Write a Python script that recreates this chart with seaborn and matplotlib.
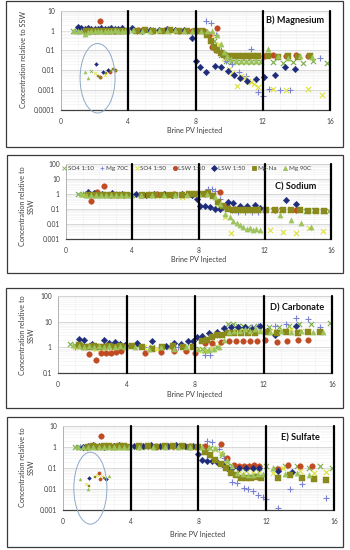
import matplotlib
matplotlib.use("Agg")
import matplotlib.pyplot as plt
from matplotlib.patches import Ellipse, Rectangle
from matplotlib.lines import Line2D
from matplotlib.ticker import LogLocator, MultipleLocator, NullFormatter
import pandas as pd
import seaborn as sns

# ---- series styling (legend order) ----
SERIES = ["SO4 1:10", "Mg 70C", "SO4 1:50", "LSW 1:10", "LSW 1:50", "Mg-Na", "Mg 90C"]
MARKERS = {"SO4 1:10": "x", "Mg 70C": "+", "SO4 1:50": "x", "LSW 1:10": "o",
           "LSW 1:50": "D", "Mg-Na": "s", "Mg 90C": "^"}
COLORS = {"SO4 1:10": "#78AD45", "Mg 70C": "#7A82D4", "SO4 1:50": "#E0E03A",
          "LSW 1:10": "#C04A22", "LSW 1:50": "#1F2C7A", "Mg-Na": "#8A8A1C",
          "Mg 90C": "#9CC35C"}
SIZES = {"SO4 1:10": 14, "Mg 70C": 16, "SO4 1:50": 14, "LSW 1:10": 16,
         "LSW 1:50": 11, "Mg-Na": 13, "Mg 90C": 14}

# ---- B) Magnesium ----
b_so4_10_x = [0.7, 0.9, 1.1, 1.3, 1.5, 1.7, 1.9, 2.1, 2.3, 2.5, 2.7, 2.9, 3.1, 3.3, 3.5, 3.7, 3.9, 4.4, 4.9, 5.4, 5.9, 6.4, 6.9, 7.4, 7.9, 8.3, 8.7, 9.1, 9.5, 9.8, 10.1, 10.4, 10.7, 11.0, 11.3, 11.6, 11.9, 12.6, 13.2, 13.8, 14.4, 15.0, 15.8]
b_so4_10_y = [1.0, 1.0, 0.95, 0.9, 0.9, 0.95, 0.9, 0.95, 1.0, 0.95, 1.0, 1.0, 0.95, 1.0, 1.0, 1.05, 1.0, 1.0, 1.05, 1.0, 1.0, 1.05, 1.0, 1.0, 0.95, 0.9, 0.7, 0.3, 0.06, 0.03, 0.025, 0.025, 0.025, 0.025, 0.025, 0.025, 0.025, 0.025, 0.022, 0.025, 0.022, 0.03, 0.024]
b_mg70_x = [1.0, 1.6, 2.2, 2.8, 3.4, 4.5, 5.5, 6.5, 7.5, 8.1, 8.6, 8.9, 9.2, 9.5, 9.8, 10.2, 10.6, 11.0, 11.3, 11.7, 12.0, 12.4, 13.0, 13.6, 15.4]
b_mg70_y = [1.0, 1.05, 1.0, 1.0, 1.05, 1.0, 1.05, 1.0, 1.0, 1.0, 3.0, 2.5, 0.6, 0.1, 0.03, 0.02, 0.008, 0.005, 0.12, 0.0008, 0.0005, 0.0011, 0.001, 0.001, 0.04]
b_so4_50_x = [1.2, 1.8, 2.4, 3.0, 3.6, 4.6, 5.6, 6.6, 7.6, 8.4, 9.0, 9.4, 9.7, 10.0, 10.2, 10.45, 10.7, 10.9, 11.1, 11.3, 11.5, 11.7, 12.6, 13.4, 14.7, 15.5]
b_so4_50_y = [1.0, 0.95, 1.0, 1.0, 0.95, 1.0, 1.0, 0.95, 1.0, 0.9, 0.6, 0.2, 0.04, 0.012, 0.007, 0.0017, 0.005, 0.004, 0.003, 0.0025, 0.002, 0.0015, 0.0012, 0.001, 0.0012, 0.0006]
b_lsw10_x = [1.4, 1.7, 2.0, 2.3, 2.6, 2.9, 3.2, 3.5, 4.6, 5.4, 6.2, 7.0, 7.8, 8.5, 8.8, 9.0, 9.2, 9.3, 9.6, 10.0, 10.4, 10.8, 11.2, 11.6, 12.1, 12.6, 13.4, 14.0, 14.7]
b_lsw10_y = [1.0, 0.9, 1.0, 3.2, 1.0, 1.0, 0.95, 1.0, 1.1, 1.0, 1.05, 1.0, 1.0, 1.0, 0.6, 0.15, 0.1, 1.4, 0.07, 0.05, 0.05, 0.05, 0.05, 0.05, 0.05, 0.06, 0.055, 0.06, 0.055]
b_lsw50_x = [1.0, 1.2, 1.4, 1.6, 1.8, 2.0, 2.2, 2.4, 2.6, 2.8, 3.0, 3.2, 3.4, 3.6, 4.2, 4.8, 5.3, 5.8, 6.3, 6.8, 7.3, 7.8, 8.0, 8.25, 8.65, 9.15, 9.5, 9.95, 10.3, 10.65, 11.05, 11.6, 12.1, 12.7, 13.35, 13.9]
b_lsw50_y = [1.6, 1.4, 1.2, 1.3, 1.2, 1.25, 1.2, 1.3, 1.25, 1.2, 1.3, 1.25, 1.2, 1.3, 1.4, 1.0, 1.1, 1.1, 1.2, 1.1, 1.1, 0.42, 0.03, 0.015, 0.0085, 0.016, 0.015, 0.009, 0.006, 0.004, 0.003, 0.0035, 0.0045, 0.006, 0.015, 0.012]
b_mgna_x = [1.5, 1.8, 2.1, 2.4, 2.7, 3.0, 3.3, 3.6, 3.9, 4.5, 5.0, 5.5, 6.0, 6.5, 7.0, 7.5, 8.0, 8.4, 8.7, 8.9, 9.1, 9.3, 9.5, 9.7, 9.9, 10.2, 10.5, 10.8, 11.1, 11.4, 11.7, 12.3, 12.9, 13.5, 14.1, 14.8]
b_mgna_y = [0.9, 1.0, 0.9, 1.0, 1.0, 0.95, 1.0, 1.0, 1.0, 1.0, 1.05, 1.0, 1.0, 1.05, 1.0, 1.0, 1.0, 0.9, 0.6, 0.3, 0.15, 0.1, 0.07, 0.06, 0.055, 0.05, 0.05, 0.05, 0.05, 0.05, 0.05, 0.05, 0.045, 0.05, 0.045, 0.05]
b_mg90_x = [0.8, 1.0, 1.2, 1.4, 1.6, 1.8, 2.0, 2.2, 2.4, 2.6, 2.8, 3.0, 3.2, 3.4, 3.6, 3.8, 4.3, 4.8, 5.3, 5.8, 6.3, 6.8, 7.3, 7.8, 8.3, 8.7, 9.0, 9.3, 9.5, 9.7, 9.9, 10.1, 10.4, 10.7, 11.0, 11.3, 11.6, 11.9, 12.3, 12.9, 13.5, 14.2, 14.9]
b_mg90_y = [1.0, 0.95, 0.9, 0.7, 0.8, 0.9, 0.95, 1.0, 1.0, 0.95, 1.0, 1.0, 1.05, 1.0, 1.0, 1.0, 1.05, 1.0, 1.0, 1.05, 1.0, 1.05, 1.0, 1.0, 1.0, 1.0, 0.9, 0.6, 0.2, 0.08, 0.05, 0.035, 0.03, 0.03, 0.03, 0.03, 0.03, 0.03, 0.12, 0.05, 0.04, 0.05, 0.045]
b_inset_x = [1.4, 1.6, 1.8, 2.0, 2.1, 2.2, 2.3, 2.4, 2.5, 2.6, 2.7, 2.8, 2.9, 3.0, 3.1, 3.2, 3.3]
b_inset_y = [0.008, 0.004, 0.009, 0.007, 0.021, 0.005, 0.0045, 0.004, 0.008, 0.006, 0.007, 0.01, 0.008, 0.009, 0.012, 0.01, 0.009]
b_inset_series = ["Mg 90C", "Mg 90C", "SO4 1:10", "SO4 1:50", "LSW 1:50", "Mg-Na", "LSW 1:10", "Mg-Na", "LSW 1:50",
                  "SO4 1:50", "Mg-Na", "LSW 1:50", "LSW 1:10", "Mg-Na", "Mg-Na", "LSW 1:10", "Mg-Na"]

# ---- C) Sodium ----
c_so4_10_x = [0.7, 1.0, 1.2, 1.4, 1.6, 1.8, 2.0, 2.2, 2.4, 2.6, 2.8, 3.0, 3.2, 3.4, 3.6, 3.8, 4.0, 4.5, 5.0, 5.5, 6.0, 6.5, 7.0, 7.5, 8.0, 8.4, 8.8, 9.2, 9.6, 10.0, 10.4, 10.8, 11.2, 11.6, 12.0, 12.5, 13.0, 13.5, 14.0, 14.5, 15.0, 15.5, 15.9]
c_so4_10_y = [1.0, 1.0, 0.9, 0.85, 0.8, 0.85, 0.8, 0.85, 0.8, 0.85, 0.8, 0.85, 0.8, 0.85, 0.8, 0.85, 0.9, 0.85, 0.9, 0.85, 0.9, 0.85, 0.9, 0.95, 1.0, 1.0, 0.8, 0.3, 0.12, 0.09, 0.08, 0.08, 0.08, 0.08, 0.08, 0.08, 0.085, 0.08, 0.08, 0.075, 0.08, 0.075, 0.075]
c_mg70_x = [1.0, 2.0, 3.0, 4.0, 5.0, 6.0, 7.0, 8.0, 8.6, 8.8, 9.0, 9.3, 9.6, 10.0, 10.4, 10.8, 11.2, 11.6, 12.0]
c_mg70_y = [1.0, 1.0, 1.0, 1.0, 1.0, 1.0, 1.0, 1.0, 2.0, 2.0, 1.5, 0.5, 0.15, 0.08, 0.06, 0.06, 0.06, 0.065, 0.07]
c_so4_50_x = [1.0, 1.5, 2.0, 2.5, 3.0, 3.5, 4.5, 5.5, 6.2, 7.0, 7.8, 8.3, 8.8, 9.2, 9.6, 9.95, 12.3, 13.1, 13.9, 14.7, 15.5]
c_so4_50_y = [0.9, 0.8, 0.9, 0.8, 0.85, 0.9, 0.7, 0.75, 0.7, 0.6, 0.9, 1.0, 0.7, 0.2, 0.03, 0.0026, 0.004, 0.003, 0.0025, 0.0056, 0.0036]
c_lsw10_x = [1.5, 1.9, 2.3, 2.7, 3.1, 3.5, 4.5, 5.5, 6.5, 7.5, 8.4, 9.3, 9.7, 10.2, 10.6, 11.0, 11.4, 12.6, 13.9]
c_lsw10_y = [0.33, 1.3, 3.3, 0.9, 0.9, 0.9, 0.9, 1.0, 1.0, 1.0, 1.0, 1.3, 0.15, 0.1, 0.1, 0.1, 0.1, 0.09, 0.09]
c_lsw50_x = [1.3, 1.7, 2.2, 2.8, 3.4, 4.2, 4.8, 5.3, 5.9, 6.4, 7.0, 7.6, 7.9, 8.1, 8.4, 8.7, 9.0, 9.3, 9.8, 10.1, 10.5, 10.9, 11.4, 11.7, 13.3, 13.9]
c_lsw50_y = [1.4, 1.1, 1.0, 1.1, 1.0, 1.0, 0.9, 1.0, 1.0, 0.9, 1.0, 0.9, 0.5, 0.15, 0.15, 0.14, 0.1, 0.1, 0.3, 0.25, 0.15, 0.15, 0.18, 0.12, 0.4, 0.22]
c_mgna_x = [1.3, 1.6, 1.9, 2.2, 2.5, 2.8, 3.1, 3.4, 3.7, 4.6, 5.0, 5.4, 5.8, 6.2, 6.6, 7.0, 7.4, 7.8, 8.2, 8.6, 8.9, 9.2, 9.5, 9.8, 10.1, 10.4, 10.7, 11.0, 11.3, 11.6, 12.1, 12.6, 13.1, 13.6, 14.1, 14.6, 15.1, 15.6]
c_mgna_y = [0.9, 0.8, 0.9, 0.85, 0.9, 0.85, 0.9, 0.85, 0.9, 0.85, 0.9, 0.9, 0.85, 0.9, 0.9, 0.9, 0.95, 1.0, 1.0, 1.1, 0.7, 0.3, 0.15, 0.1, 0.085, 0.08, 0.08, 0.08, 0.08, 0.08, 0.09, 0.08, 0.09, 0.08, 0.085, 0.07, 0.075, 0.075]
c_mg90_x = [0.9, 1.2, 1.5, 1.8, 2.1, 2.4, 2.7, 3.0, 3.3, 3.6, 3.9, 4.5, 5.2, 5.9, 6.6, 7.3, 8.0, 8.5, 9.0, 9.3, 9.6, 9.9, 10.1, 10.3, 10.5, 10.7, 10.9, 11.1, 11.3, 11.5, 11.7, 12.9, 13.6, 14.2, 14.8]
c_mg90_y = [1.0, 0.9, 0.85, 0.8, 0.85, 0.8, 0.85, 0.8, 0.85, 0.8, 0.85, 0.9, 0.85, 0.9, 0.85, 0.9, 0.95, 1.0, 0.6, 0.2, 0.05, 0.03, 0.015, 0.012, 0.008, 0.006, 0.005, 0.0055, 0.004, 0.005, 0.004, 0.04, 0.018, 0.012, 0.006]

# ---- D) Carbonate ----
d_so4_10_x = [0.7, 1.0, 1.3, 1.6, 1.9, 2.2, 2.5, 2.8, 3.1, 3.4, 3.7, 4.0, 4.6, 5.5, 6.5, 7.5, 8.4, 8.7, 9.0, 9.3, 9.6, 9.9, 10.2, 10.5, 10.8, 11.1, 11.4, 11.7, 12.3, 12.9, 13.5, 14.1, 14.8, 15.9]
d_so4_10_y = [1.3, 1.2, 1.2, 1.1, 1.2, 1.1, 1.1, 1.2, 1.1, 1.2, 1.1, 1.2, 1.2, 1.0, 1.0, 1.0, 0.9, 0.8, 0.9, 1.0, 3.0, 8.0, 8.0, 7.0, 7.0, 6.0, 6.0, 6.5, 6.0, 6.0, 7.0, 8.0, 8.0, 9.0]
d_mg70_x = [1.0, 2.0, 3.0, 4.0, 5.0, 6.0, 7.0, 8.0, 8.6, 8.9, 9.3, 9.7, 10.1, 10.5, 10.9, 11.3, 11.7, 12.7, 13.3, 13.9, 14.6, 15.3]
d_mg70_y = [1.0, 1.0, 1.0, 1.0, 1.0, 1.0, 1.0, 1.0, 0.5, 0.5, 3.0, 5.0, 6.0, 6.0, 6.0, 6.0, 7.0, 7.0, 8.0, 14.0, 13.0, 6.0]
d_so4_50_x = [1.0, 1.6, 2.2, 2.8, 3.4, 4.2, 5.0, 5.8, 6.6, 7.4, 8.2, 8.6, 9.0, 9.4, 9.8, 10.2, 10.6, 11.0, 11.4, 11.8, 12.4, 13.0, 13.6, 14.2]
d_so4_50_y = [1.0, 1.0, 0.9, 1.0, 1.0, 1.1, 1.0, 0.9, 1.0, 0.9, 0.8, 0.7, 0.9, 1.5, 3.5, 4.5, 4.5, 5.0, 5.0, 5.0, 4.5, 4.5, 5.0, 4.5]
d_lsw10_x = [1.8, 2.2, 2.5, 2.8, 3.1, 3.4, 3.7, 5.1, 6.0, 6.8, 7.5, 8.0, 8.6, 9.0, 9.5, 10.0, 10.4, 10.8, 11.2, 11.6, 12.1, 12.8, 13.4, 14.0, 14.6]
d_lsw10_y = [0.55, 0.33, 0.6, 0.6, 0.6, 0.65, 0.7, 0.6, 0.65, 0.7, 0.7, 0.6, 1.5, 1.5, 1.6, 1.7, 1.8, 1.8, 1.8, 1.8, 1.9, 1.6, 1.8, 2.0, 2.0]
d_lsw50_x = [1.2, 1.5, 2.0, 2.7, 3.0, 3.3, 3.6, 3.9, 4.6, 5.5, 6.3, 6.8, 7.2, 7.6, 7.9, 8.1, 8.4, 8.8, 9.3, 9.7, 10.1, 10.5, 10.9, 11.3, 11.8, 12.2, 12.7, 13.9]
d_lsw50_y = [2.2, 1.9, 1.3, 2.0, 1.5, 1.6, 1.4, 1.2, 1.5, 1.8, 1.1, 1.5, 1.4, 1.7, 1.7, 2.5, 2.8, 3.5, 4.0, 5.5, 6.0, 6.0, 6.0, 5.0, 7.0, 4.5, 3.0, 6.5]
d_mgna_x = [1.2, 1.5, 1.8, 2.1, 2.4, 2.7, 3.0, 3.3, 3.6, 3.9, 4.3, 4.9, 5.5, 6.1, 6.7, 7.3, 7.9, 8.4, 8.7, 9.0, 9.3, 9.6, 9.9, 10.3, 10.7, 11.1, 11.5, 12.2, 12.8, 13.3, 14.0, 14.6, 15.3]
d_mgna_y = [1.2, 1.0, 1.0, 1.1, 1.0, 1.0, 1.1, 1.0, 1.1, 1.0, 1.1, 1.0, 0.9, 1.0, 1.1, 1.0, 1.0, 1.7, 2.0, 2.5, 3.0, 3.0, 3.5, 3.5, 3.5, 3.5, 3.5, 4.0, 3.5, 4.0, 3.5, 4.0, 3.8]
d_mg90_x = [0.9, 1.2, 1.5, 1.8, 2.1, 2.4, 2.7, 3.0, 3.3, 3.6, 3.9, 4.5, 5.3, 6.0, 6.8, 7.5, 8.2, 8.5, 8.8, 9.1, 9.4, 9.7, 10.0, 10.3, 10.6, 10.9, 11.2, 11.5, 11.8, 12.4, 13.0, 13.6, 14.2, 14.9, 15.5]
d_mg90_y = [1.2, 1.1, 1.0, 1.1, 1.0, 1.1, 1.0, 1.1, 1.0, 1.1, 1.0, 1.0, 0.9, 1.0, 0.9, 1.0, 0.9, 0.8, 0.8, 0.9, 1.0, 2.0, 4.0, 4.5, 4.5, 5.0, 4.5, 5.0, 4.5, 4.0, 4.5, 4.0, 4.5, 4.0, 4.0]

# ---- E) Sulfate ----
e_so4_10_x = [0.7, 0.9, 1.1, 1.3, 1.5, 1.7, 1.9, 2.1, 2.3, 2.5, 2.7, 2.9, 3.1, 3.3, 3.5, 3.7, 3.9, 4.4, 4.9, 5.4, 5.9, 6.4, 6.9, 7.4, 7.9, 8.3, 8.7, 9.0, 9.4, 9.7, 10.0, 10.4, 10.8, 11.2, 11.6, 12.0, 12.5, 13.1, 13.8, 14.5, 15.2, 15.9]
e_so4_10_y = [1.0, 1.0, 0.95, 0.9, 0.95, 1.0, 1.0, 1.05, 1.0, 1.0, 1.05, 1.0, 1.0, 1.05, 1.0, 1.0, 1.05, 1.0, 1.05, 1.0, 1.0, 1.05, 1.0, 1.0, 1.0, 1.0, 0.9, 0.8, 0.4, 0.2, 0.12, 0.1, 0.1, 0.11, 0.1, 0.12, 0.1, 0.12, 0.13, 0.1, 0.13, 0.1]
e_mg70_x = [1.0, 2.0, 3.0, 4.5, 5.5, 6.5, 7.5, 8.2, 8.5, 8.8, 9.2, 9.5, 9.8, 10.0, 10.3, 10.7, 10.9, 11.2, 11.5, 11.8, 12.0, 12.7, 13.4, 14.1, 15.5]
e_mg70_y = [1.0, 1.0, 1.0, 1.0, 1.0, 1.0, 1.0, 1.0, 2.0, 1.7, 0.8, 0.3, 0.1, 0.022, 0.02, 0.011, 0.01, 0.008, 0.005, 0.004, 0.0032, 0.0012, 0.0097, 0.017, 0.0036]
e_so4_50_x = [1.2, 1.8, 2.4, 3.0, 3.6, 4.6, 5.6, 6.6, 7.6, 8.4, 9.0, 9.3, 9.6, 10.0, 10.4, 10.8, 11.2, 11.6, 12.4, 13.0, 14.0, 14.8, 15.5]
e_so4_50_y = [1.0, 1.0, 1.05, 1.0, 1.0, 1.0, 1.05, 1.0, 1.0, 1.0, 0.8, 0.5, 0.15, 0.08, 0.07, 0.07, 0.075, 0.07, 0.06, 0.1, 0.07, 0.06, 0.065]
e_lsw10_x = [1.4, 1.8, 2.25, 2.6, 3.0, 3.4, 4.5, 5.5, 6.5, 7.5, 8.4, 9.3, 9.7, 10.1, 10.4, 10.7, 11.0, 11.3, 11.6, 12.7, 13.3, 14.0, 14.7]
e_lsw10_y = [1.0, 1.1, 3.5, 1.1, 1.1, 1.1, 1.1, 1.1, 1.1, 1.1, 1.1, 1.4, 0.3, 0.14, 0.13, 0.13, 0.13, 0.14, 0.13, 0.09, 0.14, 0.13, 0.13]
e_lsw50_x = [1.2, 1.5, 1.8, 2.1, 2.4, 2.7, 3.0, 3.3, 3.6, 4.2, 4.7, 5.2, 5.7, 6.2, 6.7, 7.2, 7.7, 8.0, 8.2, 8.5, 8.8, 9.1, 9.4, 9.7, 10.0, 10.4, 10.8, 11.2, 11.6, 12.7, 13.5]
e_lsw50_y = [1.0, 1.1, 1.2, 1.1, 1.0, 1.1, 1.1, 1.2, 1.1, 1.1, 1.1, 1.2, 1.1, 1.1, 1.2, 1.1, 1.1, 0.45, 0.25, 0.22, 0.22, 0.2, 0.15, 0.1, 0.1, 0.1, 0.1, 0.1, 0.1, 0.07, 0.065]
e_mgna_x = [1.5, 1.8, 2.1, 2.4, 2.7, 3.0, 3.3, 3.6, 3.9, 4.5, 5.0, 5.5, 6.0, 6.5, 7.0, 7.5, 8.0, 8.4, 8.7, 9.0, 9.3, 9.6, 9.9, 10.2, 10.5, 10.8, 11.1, 11.4, 11.7, 12.7, 13.4, 14.1, 14.8, 15.5]
e_mgna_y = [1.0, 1.1, 1.0, 1.1, 1.1, 1.0, 1.1, 1.1, 1.0, 1.1, 1.1, 1.0, 1.1, 1.1, 1.1, 1.0, 1.0, 0.6, 0.4, 0.25, 0.15, 0.1, 0.06, 0.045, 0.035, 0.035, 0.035, 0.038, 0.035, 0.035, 0.045, 0.035, 0.03, 0.028]
e_mg90_x = [0.9, 1.2, 1.5, 1.8, 2.1, 2.4, 2.7, 3.0, 3.3, 3.6, 3.9, 4.5, 5.3, 6.0, 6.8, 7.5, 8.2, 8.6, 9.0, 9.4, 9.7, 10.0, 10.3, 10.6, 10.9, 11.2, 11.5, 11.8, 12.4, 13.1, 13.8, 14.5]
e_mg90_y = [1.0, 0.95, 1.0, 1.05, 1.0, 1.05, 1.0, 1.05, 1.0, 1.05, 1.0, 1.0, 1.05, 1.0, 1.05, 1.0, 1.0, 1.0, 0.9, 0.5, 0.25, 0.12, 0.06, 0.05, 0.045, 0.045, 0.05, 0.05, 0.1, 0.05, 0.06, 0.045]
e_inset_x = [1.0, 1.36, 1.5, 1.55, 1.55, 1.9, 2.14, 2.3, 2.45, 2.55, 2.7, 2.0, 2.2]
e_inset_y = [0.03, 0.017, 0.01, 0.014, 0.035, 0.039, 0.06, 0.04, 0.035, 0.03, 0.04, 0.045, 0.03]
e_inset_series = ["Mg 90C", "SO4 1:50", "Mg 90C", "Mg-Na", "LSW 1:50", "Mg-Na", "LSW 1:10",
                  "SO4 1:50", "Mg-Na", "LSW 1:50", "Mg 90C", "SO4 1:50", "LSW 1:10"]

W, H = 350, 550
DECADE_LABELS = {1e-4: "0.0001", 1e-3: "0.001", 1e-2: "0.01", 1e-1: "0.1", 1: "1", 10: "10", 100: "100"}
TXT = "#3F3F3F"


def px_axes(x0, y0, x1, y1):
    # pixel box (top-left origin) -> figure axes
    return fig.add_axes([x0 / W, 1 - y1 / H, (x1 - x0) / W, (y1 - y0) / H])


def frame(x0, y0, x1, y1):
    fig.add_artist(Rectangle((x0 / W, 1 - y1 / H), (x1 - x0) / W, (y1 - y0) / H,
                             transform=fig.transFigure, fill=False,
                             edgecolor="#3A3A3A", linewidth=0.9))


def draw_series(ax, name, xs, ys, small=False):
    df = pd.DataFrame({"pv": xs, "conc": ys})
    kw = dict(marker=MARKERS[name], color=COLORS[name], s=SIZES[name] * (0.35 if small else 1),
              legend=False, ax=ax, zorder=2)
    if MARKERS[name] in ("x", "+"):
        kw["linewidth"] = 0.5 if small else 0.8
    else:
        kw["edgecolor"] = COLORS[name]
        kw["linewidth"] = 0.3
    sns.scatterplot(data=df, x="pv", y="conc", **kw)


def style_panel(ax, ylo, yhi, title, tpos):
    ax.set_yscale("log")
    ax.set_xlim(0, 16)
    ax.set_ylim(ylo, yhi)
    decs = [d for d in DECADE_LABELS if ylo <= d <= yhi]
    ax.set_yticks(decs)
    ax.set_yticklabels([DECADE_LABELS[d] for d in decs])
    ax.set_xticks([0, 4, 8, 12, 16])
    ax.yaxis.set_minor_locator(LogLocator(base=10, subs=[2, 3, 4, 5, 6, 7, 8, 9]))
    ax.yaxis.set_minor_formatter(NullFormatter())
    ax.xaxis.set_minor_locator(MultipleLocator(1))
    ax.set_axisbelow(True)
    ax.grid(which="minor", color="#EFEFEF", linewidth=0.4)
    ax.grid(which="major", axis="y", color="#D2D2D2", linewidth=0.6)
    ax.grid(which="major", axis="x", color="#EFEFEF", linewidth=0.4)
    ax.tick_params(which="both", length=0, labelsize=4.8, colors=TXT)
    ax.tick_params(axis="y", pad=4.5)
    ax.tick_params(axis="x", pad=5.5)
    ax.set_xlabel("")
    ax.set_ylabel("")
    ax.spines["right"].set_visible(False)
    ax.spines["top"].set_color("#D2D2D2")
    ax.spines["top"].set_linewidth(0.6)
    ax.spines["left"].set_color("#A8A8A8")
    ax.spines["left"].set_linewidth(0.6)
    ax.spines["bottom"].set_color("#404040")
    ax.spines["bottom"].set_linewidth(0.9)
    for v in [4, 8, 12, 16]:
        ax.axvline(v, color="black", linewidth=1.6, zorder=3, clip_on=False)
    ax.text(tpos[0], tpos[1], title, transform=ax.transAxes, ha="center", va="center",
            fontsize=6.6, fontweight="bold", color="#111111", zorder=4,
            bbox=dict(facecolor="white", edgecolor="none", pad=1.2))


def draw_panel(ax, data, inset=None):
    for name in SERIES:
        xs, ys = data[name]
        draw_series(ax, name, xs, ys)
    if inset is not None:
        ix, iy, iser = inset
        for name in SERIES:
            pts = [(a, b) for a, b, c in zip(ix, iy, iser) if c == name]
            if pts:
                draw_series(ax, name, [p[0] for p in pts], [p[1] for p in pts], small=True)


sns.set_theme(style="white")
plt.rcParams["font.family"] = ["Lato", "DejaVu Sans"]

fig = plt.figure(figsize=(W / 100, H / 100), dpi=100)
fig.patch.set_facecolor("white")

# panel frames
frame(6, 1, 343, 147)
frame(7, 155, 343, 273)
frame(6, 288, 343, 408)
frame(7, 417, 343, 547)

# B) Magnesium
ax1 = px_axes(61, 10.7, 330, 110)
draw_panel(ax1, {"SO4 1:10": (b_so4_10_x, b_so4_10_y), "Mg 70C": (b_mg70_x, b_mg70_y),
                 "SO4 1:50": (b_so4_50_x, b_so4_50_y), "LSW 1:10": (b_lsw10_x, b_lsw10_y),
                 "LSW 1:50": (b_lsw50_x, b_lsw50_y), "Mg-Na": (b_mgna_x, b_mgna_y),
                 "Mg 90C": (b_mg90_x, b_mg90_y)},
           inset=(b_inset_x, b_inset_y, b_inset_series))
style_panel(ax1, 1e-4, 10, "B) Magnesium", (0.87, 0.905))
ax1.add_patch(Ellipse((0.136, 0.32), 0.13, 0.70, transform=ax1.transAxes, fill=False,
                      edgecolor="#8FA9CA", linewidth=0.7, clip_on=False, zorder=3))

# C) Sodium
ax2 = px_axes(66, 164, 331, 239)
draw_panel(ax2, {"SO4 1:10": (c_so4_10_x, c_so4_10_y), "Mg 70C": (c_mg70_x, c_mg70_y),
                 "SO4 1:50": (c_so4_50_x, c_so4_50_y), "LSW 1:10": (c_lsw10_x, c_lsw10_y),
                 "LSW 1:50": (c_lsw50_x, c_lsw50_y), "Mg-Na": (c_mgna_x, c_mgna_y),
                 "Mg 90C": (c_mg90_x, c_mg90_y)})
style_panel(ax2, 1e-3, 100, "C) Sodium", (0.868, 0.69))
handles = [Line2D([], [], linestyle="none", marker=MARKERS[n], color=COLORS[n],
                  markersize=3, markeredgewidth=0.6) for n in SERIES]
leg = ax2.legend(handles, SERIES, ncol=7, loc="center", bbox_to_anchor=(0.455, 0.945),
                 frameon=False, fontsize=4.5, handletextpad=0.25, columnspacing=1.1,
                 handlelength=0.6, borderpad=0)
for t in leg.get_texts():
    t.set_color(TXT)
leg.set_zorder(5)

# D) Carbonate
ax3 = px_axes(58, 296, 332, 373)
draw_panel(ax3, {"SO4 1:10": (d_so4_10_x, d_so4_10_y), "Mg 70C": (d_mg70_x, d_mg70_y),
                 "SO4 1:50": (d_so4_50_x, d_so4_50_y), "LSW 1:10": (d_lsw10_x, d_lsw10_y),
                 "LSW 1:50": (d_lsw50_x, d_lsw50_y), "Mg-Na": (d_mgna_x, d_mgna_y),
                 "Mg 90C": (d_mg90_x, d_mg90_y)})
style_panel(ax3, 0.1, 100, "D) Carbonate", (0.872, 0.845))

# E) Sulfate
ax4 = px_axes(63, 426, 334, 510)
draw_panel(ax4, {"SO4 1:10": (e_so4_10_x, e_so4_10_y), "Mg 70C": (e_mg70_x, e_mg70_y),
                 "SO4 1:50": (e_so4_50_x, e_so4_50_y), "LSW 1:10": (e_lsw10_x, e_lsw10_y),
                 "LSW 1:50": (e_lsw50_x, e_lsw50_y), "Mg-Na": (e_mgna_x, e_mgna_y),
                 "Mg 90C": (e_mg90_x, e_mg90_y)},
           inset=(e_inset_x, e_inset_y, e_inset_series))
style_panel(ax4, 1e-3, 10, "E) Sulfate", (0.875, 0.857))
ax4.add_patch(Ellipse((0.101, 0.26), 0.122, 0.857, transform=ax4.transAxes, fill=False,
                      edgecolor="#8FA9CA", linewidth=0.7, clip_on=False, zorder=3))

# axis titles as figure text
lab_kw = dict(fontsize=5.2, color=TXT, ha="center", va="center")
fig.text(24 / W, 1 - 60 / H, "Concentration relative to SSW", rotation=90, **lab_kw)
for yc in (206, 335, 467):
    fig.text(27 / W, 1 - yc / H, "Concentration relative to\nSSW", rotation=90,
             linespacing=1.3, **lab_kw)
for xc, yc in ((195, 131), (199, 260), (195, 395), (198, 534)):
    fig.text(xc / W, 1 - yc / H, "Brine PV Injected", **lab_kw)

fig.savefig("out.png", dpi=100, facecolor="white")
